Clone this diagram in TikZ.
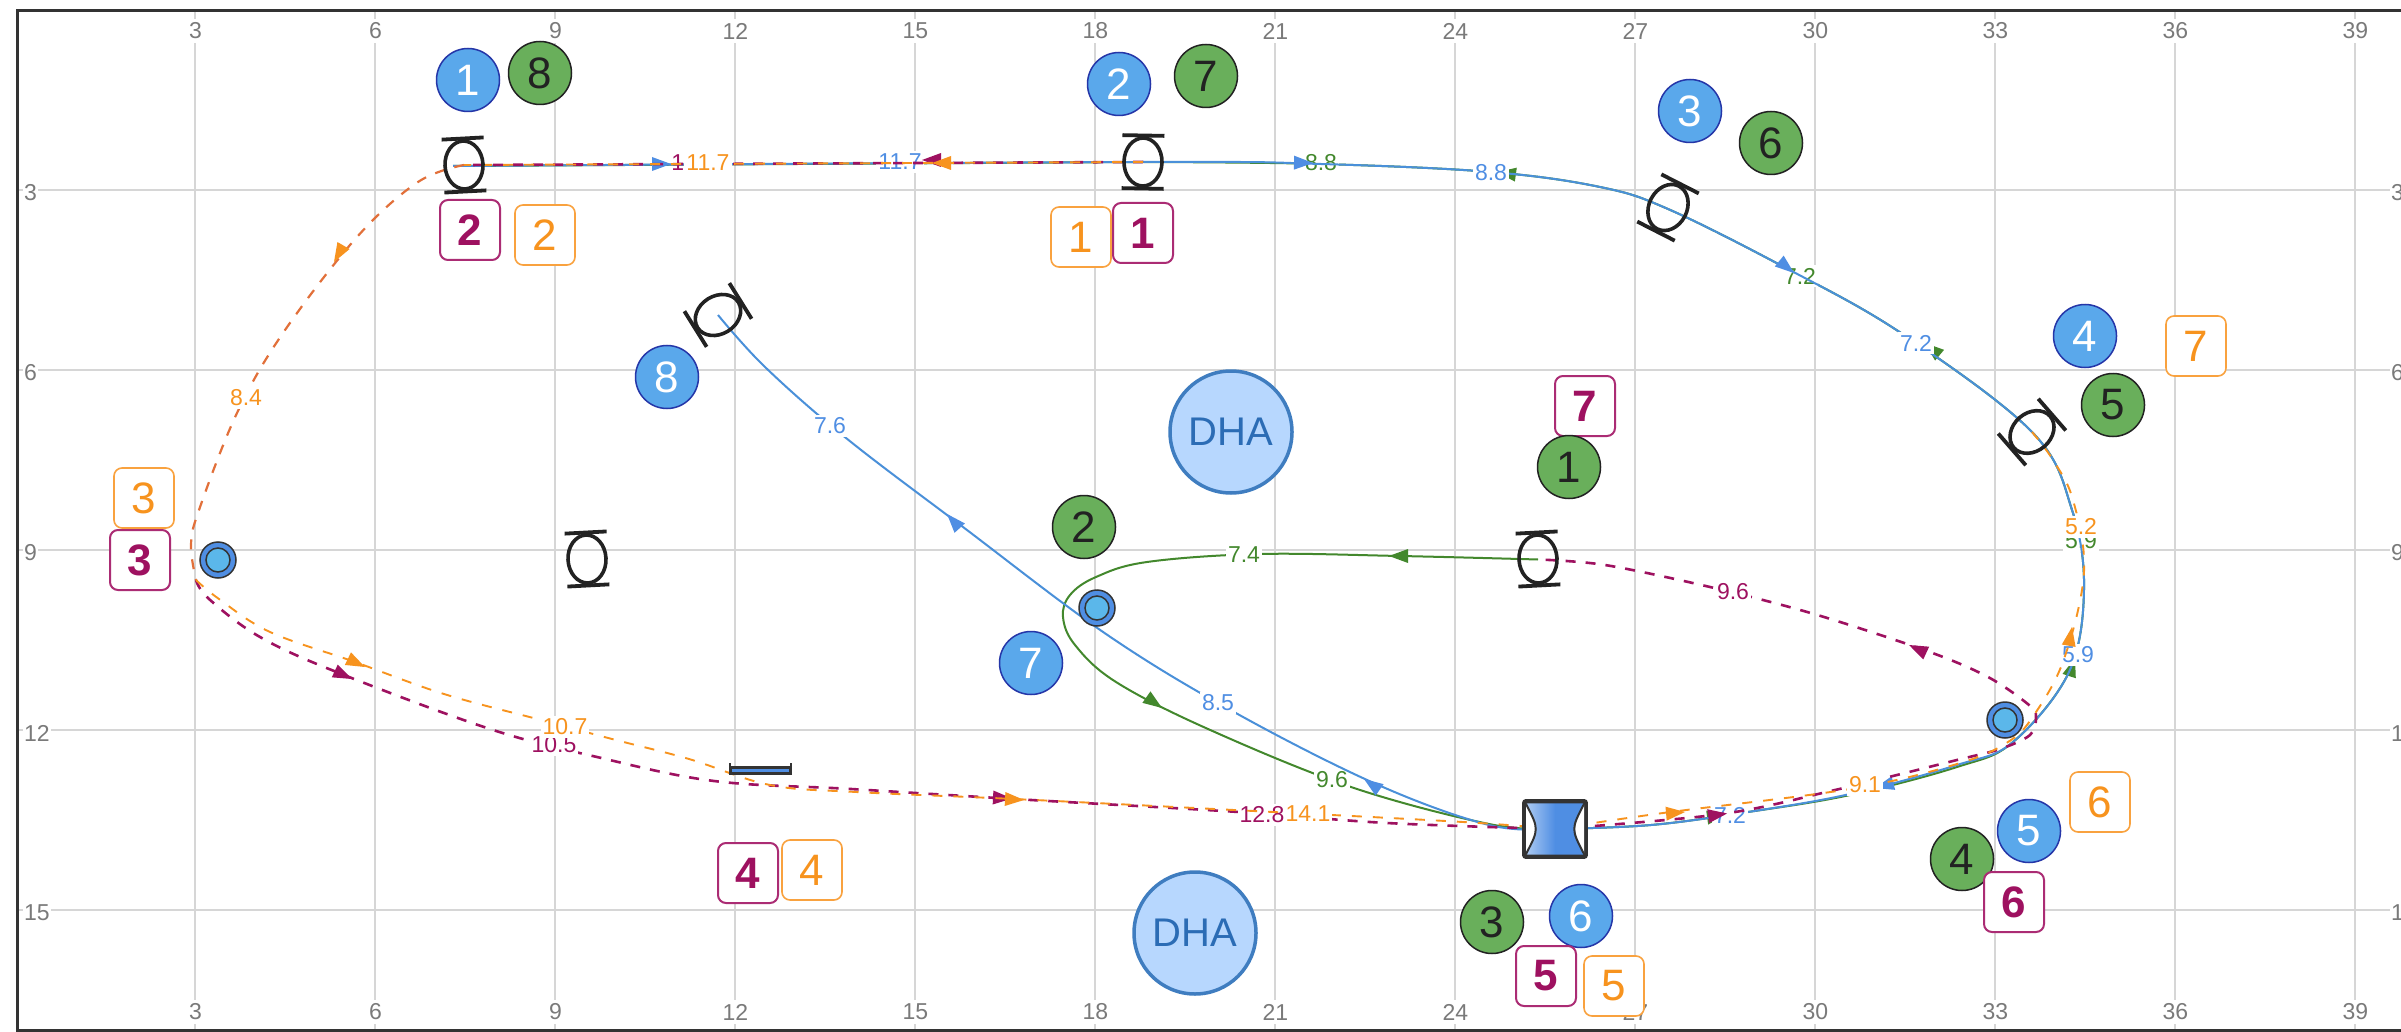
\documentclass[tikz,border=0pt]{standalone}
\usepackage{fontspec}
\setmainfont{Liberation Sans}
\usetikzlibrary{shapes.geometric}
\definecolor{gridc}{HTML}{D6D6D6}
\definecolor{axisc}{HTML}{7A7A7A}
\definecolor{framec}{HTML}{333333}
\definecolor{bluel}{HTML}{4F8EE3}
\definecolor{bluet}{HTML}{4A90D9}
\definecolor{greenl}{HTML}{43882D}
\definecolor{magl}{HTML}{9E1160}
\definecolor{orgl}{HTML}{F7931E}
\definecolor{blendl}{HTML}{E2703A}
\definecolor{bluefill}{HTML}{5AA8EB}
\definecolor{bulbfill}{HTML}{5BB7EA}
\definecolor{bluedraw}{HTML}{2536A8}
\definecolor{greenfill}{HTML}{69AF5B}
\definecolor{magdraw}{HTML}{AB2C74}
\definecolor{orgdraw}{HTML}{F9A23F}
\definecolor{dhafill}{HTML}{B7D7FE}
\definecolor{dhadraw}{HTML}{3F7DC0}
\definecolor{dhatext}{HTML}{2B6CB5}
\definecolor{ink}{HTML}{222222}
\tikzset{
  x=1pt,y=-1pt,
  gridline/.style={draw=gridc,line width=2pt},
  axislab/.style={text=axisc,font=\fontsize{23}{23}\selectfont,fill=white,inner xsep=1pt,inner ysep=4pt},
  bluepath/.style={draw=bluet,line width=2pt},
  greenpath/.style={draw=greenl,line width=2pt},
  magpath/.style={draw=magl,line width=2.6pt,dash pattern=on 10pt off 10pt},
  orgpath/.style={draw=orgl,line width=1.9pt,dash pattern=on 10pt off 11pt},
  blendpath/.style={draw=blendl,line width=2.2pt,dash pattern=on 10pt off 10pt},
  seg/.style={fill=white,inner xsep=2pt,inner ysep=3pt,font=\fontsize{23}{23}\selectfont},
  bluecirc/.style={circle,draw=bluedraw,line width=1.5pt,fill=bluefill,minimum size=63pt,inner sep=0pt,text=white,font=\fontsize{44}{44}\selectfont},
  greencirc/.style={circle,draw=ink,line width=1.5pt,fill=greenfill,minimum size=63pt,inner sep=0pt,text=ink,font=\fontsize{44}{44}\selectfont},
  magbox/.style={rectangle,rounded corners=8pt,draw=magdraw,line width=2pt,fill=white,minimum size=60pt,inner sep=0pt,text=magl,font=\fontsize{44}{44}\selectfont\bfseries},
  orgbox/.style={rectangle,rounded corners=8pt,draw=orgdraw,line width=1.6pt,fill=white,minimum size=60pt,inner sep=0pt,text=orgl,font=\fontsize{44}{44}\selectfont},
  dhacirc/.style={circle,draw=dhadraw,line width=3.5pt,fill=dhafill,minimum size=122pt,inner sep=0pt,text=dhatext,font=\fontsize{40}{40}\selectfont},
  tubering/.style={ellipse,draw=ink,line width=3.6pt,minimum width=38pt,minimum height=48pt,inner sep=0pt},
  tubebar/.style={draw=ink,line width=3.8pt},
  bulbout/.style={circle,draw=framec,line width=1.5pt,fill=bluel,minimum size=36pt,inner sep=0pt},
  bulbin/.style={circle,draw=framec,line width=1.5pt,fill=bulbfill,minimum size=24pt,inner sep=0pt},
}
\newcommand{\arw}[4]{\fill[#1,shift={(#2,#3)},rotate=#4] (0,0) -- (-19,7) -- (-19,-7) -- cycle;}
\newcommand{\tube}[4]{%
  \node[tubering,rotate=#4] (#1) at (#2,#3) {};
  \begin{scope}[shift={(#2,#3)},rotate=#4]
    \draw[tubebar] (-21,-26.5) -- (21,-26.5);
    \draw[tubebar] (-21,26.5) -- (21,26.5);
  \end{scope}}
\newcommand{\bulb}[3]{%
  \node[bulbout] (#1) at (#2,#3) {};
  \node[bulbin] (#1in) at (#2,#3) {};}
\begin{document}
\begin{tikzpicture}
\useasboundingbox (0,0) rectangle (2401,1032);
\fill[white] (0,0) rectangle (2401,1032);
% grid
\foreach \u in {3,6,...,39}{
  \pgfmathsetmacro{\xx}{195.4+(\u-3)*60}
  \draw[gridline] (\xx,11) -- (\xx,1030);
  \node[axislab] (tx\u) at (\xx,31) {\u};
  \node[axislab] (bx\u) at (\xx,1012) {\u};
}
\foreach \v in {3,6,...,15}{
  \pgfmathsetmacro{\yy}{10+\v*60}
  \draw[gridline] (17,\yy) -- (2396,\yy);
  \node[axislab,anchor=west,inner ysep=1pt] (ly\v) at (23,\yy+3) {\v};
  \node[axislab,anchor=west,inner ysep=1pt] (ry\v) at (2390,\yy+3) {\v};
}
% anchors of the routes
\coordinate (s1) at (464,165);
\coordinate (s1w) at (453,166);
\coordinate (s2) at (1143,162);
\coordinate (s3) at (1668,209);
\coordinate (s4) at (2032,432);
\coordinate (s5) at (718,315);
\coordinate (s7) at (1538,559.5);
\coordinate (p) at (1555,829);
\coordinate (ll) at (196,580);
% green route
\draw[greenpath,yshift=1.5pt] (s2) -- (s1w);
\draw[greenpath] plot[smooth,tension=0.6] coordinates {(s2) (1321,164) (1491,172) (1600,187) (s3) (1784,267) (1901,333) (s4) (2072,510) (2084,589) (2069,672) (2013,742) (1957,767) (1850,795) (1748,812) (1651,825) (p)};
\draw[greenpath] plot[smooth,tension=0.6] coordinates {(p) (1489,824) (1351,787) (1208,729) (1116,682) (1075,645) (1063,617) (1070,595) (1096,577) (1147,562) (1259,554) (1400,556) (s7)};
\arw{greenl}{1497}{172}{172}
\arw{greenl}{1925}{343}{140}
\arw{greenl}{2075}{658}{72}
\arw{greenl}{1726}{815}{8}
\arw{greenl}{1162}{708}{-35}
\arw{greenl}{1389}{556}{180}
\node[seg,text=greenl] (g74) at (1244,555) {7.4};
\node[seg,text=greenl] (g96) at (1332,780) {9.6};
\node[seg,text=greenl] (g88) at (1321,163) {8.8};
\node[seg,text=greenl] (g72) at (1800,276) {7.2};
\node[seg,text=greenl] (g59) at (2081,541) {5.9};
% blue route
\draw[bluepath] plot[smooth,tension=0.6] coordinates {(s1w) (s2) (1321,164) (1491,172) (1600,187) (s3) (1784,267) (1901,333) (s4) (2072,510) (2084,589) (2069,672) (2013,742) (1957,765) (1850,794) (1748,812) (1651,825) (p)};
\draw[bluepath] plot[smooth,tension=0.6] coordinates {(p) (1489,825) (1376,784) (1234,712) (1106,634) (963,527) (846,438) (765,367) (s5)};
\arw{bluel}{671}{164}{0}
\arw{bluel}{1313}{163}{-1}
\arw{bluel}{1794}{273}{-39}
\arw{bluel}{1875}{788}{195}
\arw{bluel}{1364}{779}{145}
\arw{bluel}{947}{514}{132}
\node[seg,text=bluel] (b117) at (900,162) {11.7};
\node[seg,text=bluel] (b88) at (1491,173) {8.8};
\node[seg,text=bluel] (b72a) at (1916,343) {7.2};
\node[seg,text=bluel] (b59) at (2078,655) {5.9};
\node[seg,text=bluel] (b72b) at (1730,815) {7.2};
\node[seg,text=bluel] (b85) at (1218,703) {8.5};
\node[seg,text=bluel] (b76) at (830,426) {7.6};
% magenta route
\node[seg,text=magl,fill=none] (m117) at (693,163) {11.7};
\draw[magpath] (s2) -- (s1);
\draw[magpath] plot[smooth,tension=0.6] coordinates {(ll) (209,599) (260,637) (339,673) (490,729) (597,757) (714,781) (851,789) (1014,799) (1239,812) (1387,823) (p)};
\draw[magpath] plot[smooth,tension=0.55] coordinates {(p) (1722,814) (1835,790) (1957,760) (2000,749) (2030,735) (2036,717) (2029,705) (1988,677) (1927,651) (1814,614) (1710,587) (1605,565) (s7)};
\arw{magl}{922}{160}{180}
\arw{magl}{352}{679}{-25}
\arw{magl}{1012}{798.5}{-3}
\arw{magl}{1727}{813.5}{8}
\arw{magl}{1909}{645}{155}
\node[seg,text=magl] (m105) at (554,745) {10.5};
\node[seg,text=magl] (m128) at (1262,815) {12.8};
\node[seg,text=magl] (m96) at (1733,592) {9.6};
% orange route
\draw[orgpath,yshift=-1.5pt] (s2) -- (s1);
\draw[blendpath] plot[smooth,tension=0.6] coordinates {(s1) (418,182) (357,237) (283,333) (237,413) (199,510) (191,545) (ll)};
\draw[orgpath] plot[smooth,tension=0.6] coordinates {(ll) (219,599) (270,632) (355,662) (444,694) (541,720) (612,739) (689,759) (770,785) (856,792) (1014,799) (1234,810) (1463,822) (p)};
\draw[orgpath] plot[smooth,tension=0.6] coordinates {(p) (1663,813) (1850,789) (1957,764) (2008,742) (2034,715) (2064,659) (2084,572) (2073,500) (2053,460) (s4)};
\arw{orgl}{334}{262}{240}
\arw{orgl}{365}{667}{-26}
\arw{orgl}{1024}{800}{-3}
\arw{orgl}{1685}{812}{5}
\arw{orgl}{2072}{627}{80}
\arw{orgl}{932}{163}{180}
\node[seg,text=orgl] (o84) at (246,398) {8.4};
\node[seg,text=orgl] (o117) at (708,163) {11.7};
\node[seg,text=orgl] (o107) at (565,727) {10.7};
\node[seg,text=orgl] (o141) at (1308,814) {14.1};
\node[seg,text=orgl] (o91) at (1865,785) {9.1};
\node[seg,text=orgl] (o52) at (2081,527) {5.2};
% equipment
\tube{t1}{464}{165}{3}
\tube{t2}{1143}{162}{-1}
\tube{t3}{1668}{207.5}{-27}
\tube{t4}{2032}{432}{-49}
\tube{t5}{718}{315}{-58}
\tube{t6}{587}{559}{3}
\tube{t7}{1538}{559}{3}
\bulb{bu1}{218}{560}
\bulb{bu2}{1097}{608}
\bulb{bu3}{2005}{720}
\node[rectangle,draw=framec,line width=2.2pt,fill=bluel,minimum width=59pt,minimum height=6pt,inner sep=0pt] (flat) at (760.5,770.5) {};
\draw[draw=framec,line width=2.4pt] (flat.north west) ++(0,-3) -- ++(0,12);
\draw[draw=framec,line width=2.4pt] (flat.north east) ++(0,-3) -- ++(0,12);
\node[rectangle,rounded corners=2pt,draw=framec,line width=2.8pt,left color=bluel!45!white,right color=bluel,middle color=bluel,minimum width=60pt,minimum height=54pt,inner sep=0pt] (pump) at (1555,829) {};
\fill[white] (1526,804) .. controls (1539,829) .. (1526,854) -- cycle;
\fill[white] (1584,804) .. controls (1571,829) .. (1584,854) -- cycle;
\draw[framec,line width=2pt] (1526,804) .. controls (1539,829) .. (1526,854);
\draw[framec,line width=2pt] (1584,804) .. controls (1571,829) .. (1584,854);
\draw[framec,line width=2.8pt,rounded corners=2pt] (pump.north west) rectangle (pump.south east);
\node[dhacirc] (dha1) at (1231,432) {DHA};
\node[dhacirc] (dha2) at (1195,933) {DHA};
% numbered markers
\node[bluecirc] (n1) at (468,80) {1};
\node[bluecirc] (n2) at (1119,84) {2};
\node[bluecirc] (n3) at (1690,111) {3};
\node[bluecirc] (n4) at (2085,336) {4};
\node[bluecirc] (n5) at (2029,831) {5};
\node[bluecirc] (n6) at (1581,916) {6};
\node[bluecirc] (n7) at (1031,663) {7};
\node[bluecirc] (n8) at (667,377) {8};
\node[greencirc] (c8) at (540,73) {8};
\node[greencirc] (c7) at (1206,76) {7};
\node[greencirc] (c6) at (1771,143) {6};
\node[greencirc] (c5) at (2113,405) {5};
\node[greencirc] (c2) at (1084,527) {2};
\node[greencirc] (c3) at (1492,922) {3};
\node[greencirc] (c4) at (1962,859) {4};
\node[magbox] (m2) at (470,230) {2};
\node[magbox] (m1) at (1143,233) {1};
\node[magbox] (m7) at (1585,406) {7};
\node[greencirc] (c1) at (1569,467) {1};
\node[magbox] (m3) at (140,560) {3};
\node[magbox] (m4) at (748,873) {4};
\node[magbox] (m5) at (1546,976) {5};
\node[magbox] (m6) at (2014,902) {6};
\node[orgbox] (o2) at (545,235) {2};
\node[orgbox] (o1) at (1081,237) {1};
\node[orgbox] (o7) at (2196,346) {7};
\node[orgbox] (o3) at (144,498) {3};
\node[orgbox] (o4) at (812,870) {4};
\node[orgbox] (o5) at (1614,986) {5};
\node[orgbox] (o6) at (2100,802) {6};
% frame
\draw[framec,line width=3pt] (2405,11) -- (17,11) -- (17,1030) -- (2405,1030);
\end{tikzpicture}
\end{document}
